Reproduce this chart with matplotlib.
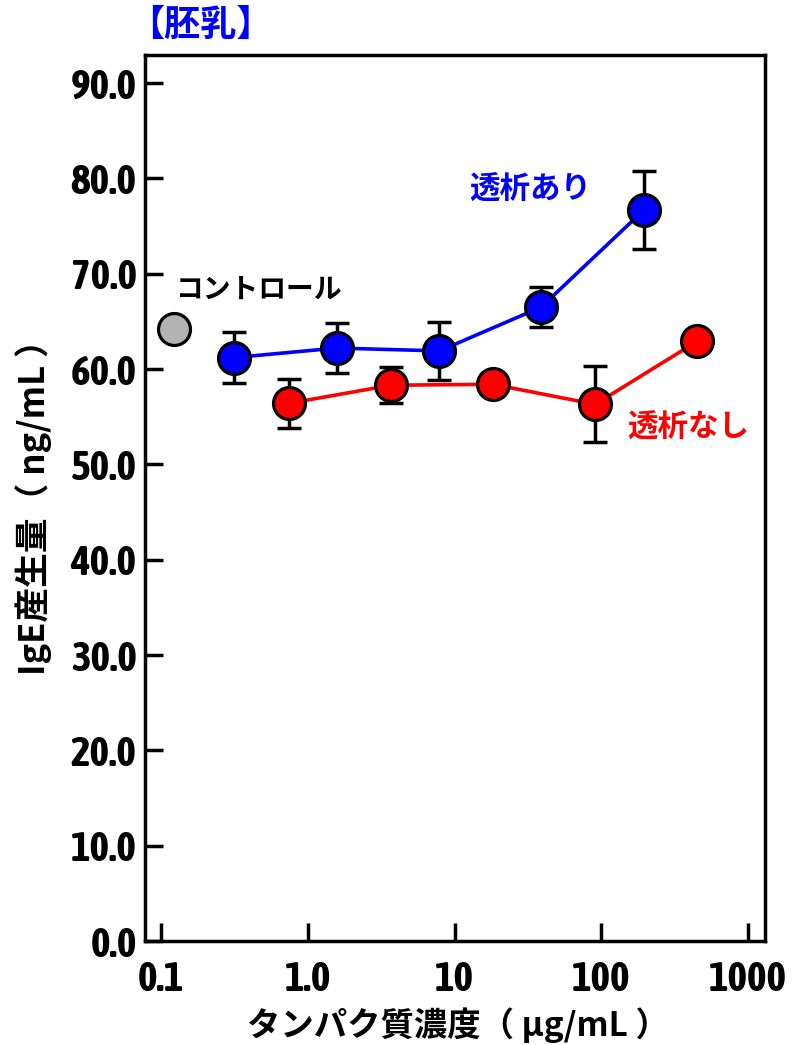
import numpy as np
import matplotlib
matplotlib.use("Agg")
import matplotlib.pyplot as plt
from matplotlib import font_manager
from matplotlib.ticker import FixedLocator, FixedFormatter, NullLocator

# data
ctrl_x = [0.122]
ctrl_y = [64.2]

blue_x = [0.314, 1.57, 7.9, 39.0, 196.0]
blue_y = [61.2, 62.2, 61.9, 66.5, 76.7]
blue_err = [2.7, 2.6, 3.0, 2.1, 4.1]

red_x = [0.74, 3.7, 18.2, 91.0, 450.0]
red_y = [56.4, 58.3, 58.4, 56.3, 62.9]
red_err = [2.6, 1.9, 0.0, 4.0, 0.0]

xticks = [0.1, 1, 10, 100, 1000]
xtick_labels = ["0.1", "1.0", "10", "100", "1000"]
yticks = [0, 10, 20, 30, 40, 50, 60, 70, 80, 90]
ytick_labels = ["%.1f" % v for v in yticks]

jp = ["Noto Sans CJK JP", "DejaVu Sans"]


def is_bold(f):
    w = f.weight
    if isinstance(w, str):
        return w in ("bold", "heavy", "extra bold", "black", "demibold", "semibold")
    return w >= 600


# look for a bold narrow face for the numbers
cands = []
for f in font_manager.fontManager.ttflist:
    narrowish = ("Narrow" in f.name or "Condensed" in f.name or
                 str(f.stretch) in ("condensed", "semi-condensed", "extra-condensed"))
    if narrowish and is_bold(f) and f.style == "normal":
        cands.append(f)
cands.sort(key=lambda f: (abs((f.weight if not isinstance(f.weight, str) else 700) - 700), f.name))
if cands:
    numprop = font_manager.FontProperties(fname=cands[0].fname, size=30)
else:
    numprop = font_manager.FontProperties(family=["Liberation Sans", "DejaVu Sans"],
                                          weight="bold", size=26)

fig = plt.figure(figsize=(8.06, 10.45), dpi=100)
ax = fig.add_axes([0.180, 0.0995, 0.769, 0.8475])

ax.set_xscale("log")
ax.set_xlim(0.0778, 1305)
ax.set_ylim(0, 92.9)

ms = 23
mew = 2.3
ekw = dict(ecolor="black", elinewidth=2.5, capsize=8.5, capthick=2.5)

ax.errorbar(blue_x, blue_y, yerr=blue_err, fmt="none", zorder=2, **ekw)
ax.plot(blue_x, blue_y, color="#0000ff", lw=2.6, zorder=1)
ax.plot(blue_x, blue_y, "o", ms=ms, mfc="#0000ff", mec="black", mew=mew, zorder=3)

ax.errorbar(red_x, red_y, yerr=red_err, fmt="none", zorder=2, **ekw)
ax.plot(red_x, red_y, color="#ff0000", lw=2.6, zorder=1)
ax.plot(red_x, red_y, "o", ms=ms, mfc="#ff0000", mec="black", mew=mew, zorder=3)

ax.plot(ctrl_x, ctrl_y, "o", ms=ms, mfc="#b3b3b3", mec="black", mew=mew, zorder=3)

# axes styling
for side in ["left", "right", "top", "bottom"]:
    ax.spines[side].set_linewidth(2.5)
ax.xaxis.set_major_locator(FixedLocator(xticks))
ax.xaxis.set_major_formatter(FixedFormatter(xtick_labels))
ax.xaxis.set_minor_locator(NullLocator())
ax.yaxis.set_major_locator(FixedLocator(yticks))
ax.yaxis.set_major_formatter(FixedFormatter(ytick_labels))
ax.tick_params(axis="both", direction="in", length=13, width=2.5, pad=6)
ax.tick_params(axis="x", pad=14)
for lab in ax.get_xticklabels() + ax.get_yticklabels():
    lab.set_fontproperties(numprop)

ax.set_ylabel("IgE産生量（ ng/mL ）", family=jp, fontsize=25, fontweight="bold")
ax.yaxis.set_label_coords(-0.150, 0.5)
ax.set_xlabel("タンパク質濃度（ μg/mL ）", family=jp, fontsize=24, fontweight="bold")
ax.xaxis.set_label_coords(0.505, -0.075)

ax.text(0.125, 68.3, "コントロール", family=jp, fontsize=20, fontweight="bold", color="black",
        va="center", ha="left")
ax.text(33, 78.8, "透析あり", family=jp, fontsize=22, fontweight="bold", color="#0000ff",
        va="center", ha="center")
ax.text(391, 53.8, "透析なし", family=jp, fontsize=22, fontweight="bold", color="#ff0000",
        va="center", ha="center")

fig.text(0.159, 0.976, "【胚乳】", family=jp, fontsize=26, fontweight="bold", color="#0000ff",
         va="center", ha="left")

fig.savefig("out.png", dpi=100)
